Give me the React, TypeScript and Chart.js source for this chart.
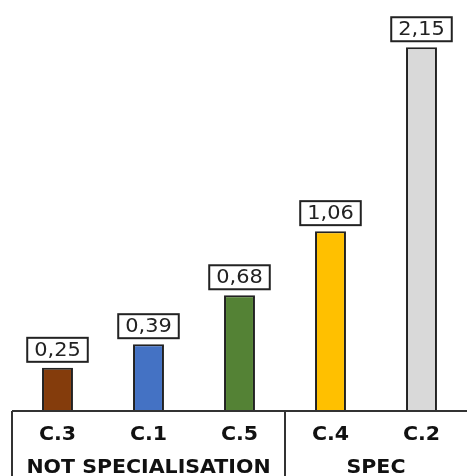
import React, { useEffect, useRef } from "react";
import { Chart, registerables } from "chart.js";

Chart.register(...registerables);

const categories = ["C.3", "C.1", "C.5", "C.4", "C.2"];
const values = [0.25, 0.39, 0.68, 1.06, 2.15];
const valueLabels = ["0,25", "0,39", "0,68", "1,06", "2,15"];
const colors = ["#843C0C", "#4472C4", "#548235", "#FFC000", "#D9D9D9"];
const groups = [
  { label: "NOT SPECIALISATION", from: 0, to: 2 },
  { label: "SPEC", from: 3, to: 4 },
];

function stretchedText(ctx: any, txt: string, x: number, y: number, sx: number) {
  ctx.save();
  ctx.translate(x, y);
  ctx.scale(sx, 1);
  ctx.fillText(txt, 0, 0);
  ctx.restore();
}

const labelPlugin = {
  id: "customLabels",
  afterDatasetsDraw(chart: any) {
    const ctx = chart.ctx;
    const meta = chart.getDatasetMeta(0);
    const area = chart.chartArea;
    const xScale = chart.scales.x;
    ctx.save();
    // value boxes
    ctx.font = "19px 'DejaVu Sans'";
    ctx.textAlign = "center";
    ctx.textBaseline = "middle";
    const sxv = 1.1;
    meta.data.forEach((bar: any, i: number) => {
      const txt = valueLabels[i];
      const w = ctx.measureText(txt).width * sxv + 14;
      const h = 24;
      const bottom = bar.y - 6;
      ctx.fillStyle = "#fff";
      ctx.fillRect(bar.x - w / 2, bottom - h, w, h);
      ctx.strokeStyle = "#222";
      ctx.lineWidth = 2;
      ctx.strokeRect(bar.x - w / 2, bottom - h, w, h);
      ctx.fillStyle = "#222";
      stretchedText(ctx, txt, bar.x, bottom - h / 2 + 1, sxv);
    });
    // axis lines
    const base = area.bottom + 1;
    const step = (area.right - area.left) / categories.length;
    ctx.strokeStyle = "#333";
    ctx.lineWidth = 2;
    ctx.beginPath();
    ctx.moveTo(area.left, base);
    ctx.lineTo(chart.width, base);
    ctx.moveTo(area.left, base);
    ctx.lineTo(area.left, chart.height);
    groups.forEach((g) => {
      if (g.from > 0) {
        const x = area.left + g.from * step;
        ctx.moveTo(x, base);
        ctx.lineTo(x, chart.height);
      }
    });
    ctx.stroke();
    // category labels
    ctx.fillStyle = "#111";
    ctx.font = "bold 19px 'DejaVu Sans'";
    const sxl = 1.08;
    categories.forEach((c, i) => {
      stretchedText(ctx, c, xScale.getPixelForValue(i), base + 24, sxl);
    });
    groups.forEach((g) => {
      const x = (xScale.getPixelForValue(g.from) + xScale.getPixelForValue(g.to)) / 2;
      stretchedText(ctx, g.label, x, base + 57, sxl);
    });
    ctx.restore();
  },
};

export default function App() {
  const ref = useRef<HTMLCanvasElement>(null);
  useEffect(() => {
    const chart = new Chart(ref.current!, {
      type: "bar",
      data: {
        labels: categories,
        datasets: [
          {
            data: values,
            backgroundColor: colors,
            borderColor: "#222",
            borderWidth: 2,
            categoryPercentage: 1,
            barPercentage: 0.34,
          },
        ],
      },
      options: {
        animation: false,
        responsive: false,
        layout: { padding: { left: 12, right: 0, top: 0, bottom: 66 } },
        plugins: { legend: { display: false }, tooltip: { enabled: false } },
        scales: {
          x: { display: false },
          y: { display: false, min: 0, max: 2.43 },
        },
      },
      plugins: [labelPlugin],
    });
    return () => chart.destroy();
  }, []);
  return (
    <div style={{ position: "absolute", left: 0, top: 0, width: 467, height: 476, background: "#fff" }}>
      <canvas ref={ref} width={467} height={476} />
    </div>
  );
}
